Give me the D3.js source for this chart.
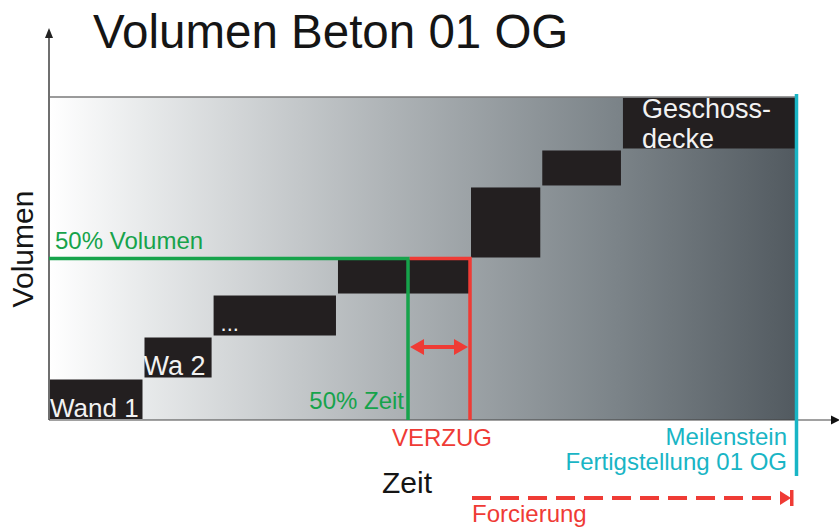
<!DOCTYPE html>
<html>
<head>
<meta charset="utf-8">
<script src="https://cdn.jsdelivr.net/npm/d3@7"></script>
<style>
    html, body { margin: 0; padding: 0; background: #fff; }
    svg text { font-family: "Liberation Sans", Arial, Helvetica, sans-serif; }
</style>
</head>
<body>
<div id="chart"></div>
<script>
// Bauteile (Betonierabschnitte) in zeitlicher Reihenfolge
const bauteile = ["Wand 1", "Wa 2", "...", "", "", "", "Geschoss-|decke"];
// Kumulierte Zeitgrenzen der Abschnitte (% der Gesamtzeit)
const zeitGrenzen = [0, 12.65, 21.9, 38.55, 56.36, 65.9, 76.7, 100];
// Kumulierte Volumengrenzen der Abschnitte (% des Gesamtvolumens)
const volumenGrenzen = [0, 12.85, 25.85, 38.85, 50, 72.3, 83.75, 100];

const halbesVolumen = 50;   // 50% Volumen
const halbeZeit = 48.06;    // Zeitpunkt, an dem 50% Volumen geplant war
const verzugZeit = 56.36;   // tatsächlicher Zeitpunkt
const meilenstein = 100;    // Fertigstellung 01 OG

const width = 839, height = 527;
const plot = { left: 49, right: 796, top: 97, bottom: 420 };

const colors = {
    block: "#231f20",
    green: "#16a34b",
    red: "#ef3b35",
    cyan: "#19b5c5",
    axis: "#6f6f6f"
};

const x = d3.scaleLinear().domain([0, 100]).range([plot.left, plot.right]);
const y = d3.scaleLinear().domain([0, 100]).range([plot.bottom, plot.top]);

const svg = d3.select("#chart").append("svg")
    .attr("width", width)
    .attr("height", height);

const defs = svg.append("defs");

// Hintergrundverlauf hell -> dunkel
const grad = defs.append("linearGradient")
    .attr("id", "bg")
    .attr("x1", "0%").attr("x2", "100%").attr("y1", "0%").attr("y2", "0%");
[[0, "#ffffff"], [0.12, "#e9ebec"], [0.45, "#afb4b7"], [0.75, "#7d858a"], [1, "#525a60"]]
    .forEach(([o, c]) => grad.append("stop").attr("offset", o).attr("stop-color", c));

svg.append("rect")
    .attr("x", x(0))
    .attr("y", y(100))
    .attr("width", x(100) - x(0))
    .attr("height", y(0) - y(100))
    .attr("fill", "url(#bg)");

// obere Begrenzung
svg.append("line")
    .attr("x1", x(0)).attr("x2", x(100))
    .attr("y1", y(100)).attr("y2", y(100))
    .attr("stroke", "#7a7a7a")
    .attr("stroke-width", 1.5);

// Blöcke der Betonierabschnitte
const blocks = bauteile.map((name, i) => ({
    name,
    t0: zeitGrenzen[i], t1: zeitGrenzen[i + 1],
    v0: volumenGrenzen[i], v1: volumenGrenzen[i + 1]
}));

svg.append("g").selectAll("rect")
    .data(blocks)
    .join("rect")
    .attr("x", d => x(d.t0) + 1)
    .attr("y", d => y(d.v1) + 1)
    .attr("width", d => x(d.t1) - x(d.t0) - 2)
    .attr("height", d => y(d.v0) - y(d.v1) - 2)
    .attr("fill", colors.block);

// Beschriftungen in den Blöcken
const labelOffsets = [
    { dx: 1, dy: -3, size: 26 },
    { dx: 0, dy: -3, size: 27 },
    { dx: 8, dy: -6, size: 22 },
    null, null, null,
    { dx: 20, dy: 0, size: 27 }
];

blocks.forEach((d, i) => {
    const o = labelOffsets[i];
    if (!o || !d.name) return;
    const lines = d.name.split("|");
    const t = svg.append("text")
        .attr("fill", "#f2f2f2")
        .attr("font-size", o.size);
    if (lines.length === 1) {
        t.attr("x", x(d.t0) + o.dx).attr("y", y(d.v0) + o.dy).text(d.name);
    } else {
        lines.forEach((l, k) => {
            t.append("tspan")
                .attr("x", x(d.t0) + o.dx)
                .attr("y", y(d.v1) + 21 + k * 30)
                .text(l);
        });
    }
});

// Achsen mit Pfeilen
svg.append("line")
    .attr("x1", x(0)).attr("x2", x(0))
    .attr("y1", y(0)).attr("y2", 36)
    .attr("stroke", colors.axis).attr("stroke-width", 2);
svg.append("path")
    .attr("d", `M${x(0) - 4},38 L${x(0)},28 L${x(0) + 4},38 Z`)
    .attr("fill", "#222");

svg.append("line")
    .attr("x1", x(0)).attr("x2", 832)
    .attr("y1", y(0)).attr("y2", y(0))
    .attr("stroke", "#444").attr("stroke-width", 1.2);
svg.append("path")
    .attr("d", `M831,${y(0) - 4.5} L840,${y(0)} L831,${y(0) + 4.5} Z`)
    .attr("fill", "#111");

// 50% Volumen / 50% Zeit (grün)
svg.append("path")
    .attr("d", `M${x(0)},${y(halbesVolumen)} H${x(halbeZeit)} V${y(0)}`)
    .attr("fill", "none")
    .attr("stroke", colors.green)
    .attr("stroke-width", 3.5);

// Verzug (rot)
svg.append("path")
    .attr("d", `M${x(halbeZeit) + 1.75},${y(halbesVolumen)} H${x(verzugZeit)} V${y(0)}`)
    .attr("fill", "none")
    .attr("stroke", colors.red)
    .attr("stroke-width", 3.5);

// Doppelpfeil Verzug
const arrowY = 347;
const ax0 = x(halbeZeit) + 2, ax1 = x(verzugZeit) - 2;
svg.append("line")
    .attr("x1", ax0 + 8).attr("x2", ax1 - 8)
    .attr("y1", arrowY).attr("y2", arrowY)
    .attr("stroke", colors.red).attr("stroke-width", 4);
svg.append("path")
    .attr("d", `M${ax0},${arrowY} L${ax0 + 14},${arrowY - 8} L${ax0 + 14},${arrowY + 8} Z
                M${ax1},${arrowY} L${ax1 - 14},${arrowY - 8} L${ax1 - 14},${arrowY + 8} Z`)
    .attr("fill", colors.red);

// Meilenstein (cyan)
svg.append("line")
    .attr("x1", x(meilenstein) + 0.5).attr("x2", x(meilenstein) + 0.5)
    .attr("y1", 94).attr("y2", 476)
    .attr("stroke", colors.cyan).attr("stroke-width", 3.5);

// Forcierung (gestrichelter Pfeil)
const fy = 498;
svg.append("line")
    .attr("x1", x(verzugZeit) + 2).attr("x2", x(meilenstein) - 14)
    .attr("y1", fy).attr("y2", fy)
    .attr("stroke", colors.red).attr("stroke-width", 4)
    .attr("stroke-dasharray", "19 9");
svg.append("path")
    .attr("d", `M${x(meilenstein) - 16},${fy - 7} L${x(meilenstein) - 5},${fy} L${x(meilenstein) - 16},${fy + 7} Z`)
    .attr("fill", colors.red);
svg.append("rect")
    .attr("x", x(meilenstein) - 6).attr("y", fy - 8)
    .attr("width", 3.5).attr("height", 16)
    .attr("fill", colors.red);

// Texte
svg.append("text")
    .attr("x", 93).attr("y", 48)
    .attr("font-size", 47.5)
    .attr("fill", "#151515")
    .text("Volumen Beton 01 OG");

svg.append("text")
    .attr("transform", "translate(33,249) rotate(-90)")
    .attr("text-anchor", "middle")
    .attr("font-size", 30)
    .attr("fill", "#151515")
    .text("Volumen");

svg.append("text")
    .attr("x", 407).attr("y", 493)
    .attr("text-anchor", "middle")
    .attr("font-size", 30)
    .attr("fill", "#151515")
    .text("Zeit");

svg.append("text")
    .attr("x", x(0) + 6).attr("y", y(halbesVolumen) - 10)
    .attr("font-size", 24)
    .attr("fill", colors.green)
    .text("50% Volumen");

svg.append("text")
    .attr("x", x(halbeZeit) - 4).attr("y", 409)
    .attr("text-anchor", "end")
    .attr("font-size", 24)
    .attr("fill", colors.green)
    .text("50% Zeit");

svg.append("text")
    .attr("x", x(verzugZeit) - 28).attr("y", 446)
    .attr("text-anchor", "middle")
    .attr("font-size", 24)
    .attr("fill", colors.red)
    .text("VERZUG");

svg.append("text")
    .attr("x", x(meilenstein) - 9).attr("y", 445)
    .attr("text-anchor", "end")
    .attr("font-size", 24)
    .attr("fill", colors.cyan)
    .text("Meilenstein");

svg.append("text")
    .attr("x", x(meilenstein) - 9).attr("y", 470)
    .attr("text-anchor", "end")
    .attr("font-size", 24)
    .attr("fill", colors.cyan)
    .text("Fertigstellung 01 OG");

svg.append("text")
    .attr("x", x(verzugZeit) + 2).attr("y", 522)
    .attr("font-size", 24)
    .attr("fill", colors.red)
    .text("Forcierung");
</script>
</body>
</html>
